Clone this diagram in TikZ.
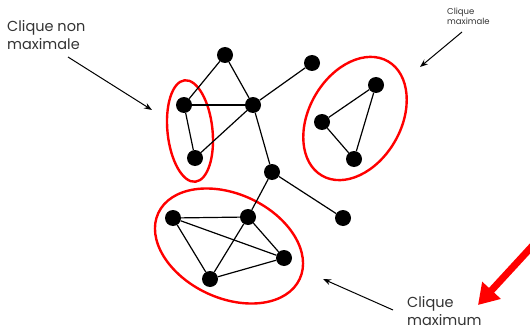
\documentclass[tikz,border=0pt]{standalone}
\usepackage{fontspec}
\setmainfont{Poppins}
\usetikzlibrary{arrows.meta}
\begin{document}
\begin{tikzpicture}[x=1pt,y=-1pt,
  vtx/.style={circle,fill=black,inner sep=0pt,minimum width=15pt,minimum height=16pt},
  edge/.style={line width=1.2pt},
  clq/.style={draw=red,line width=2.4pt},
  lbl/.style={text=black!80,align=left,inner sep=0pt,font=\fontsize{14.5}{18}\selectfont},
  ptr/.style={line width=1pt,-{Stealth[length=8pt,width=6pt]}}]
\useasboundingbox (0,0) rectangle (530,329);
% ellipses
\draw[clq] (190,131) ellipse [x radius=22.5, y radius=51, rotate=6];
\draw[clq] (355,118.5) ellipse [x radius=66, y radius=46, rotate=60];
\draw[clq] (229,246) ellipse [x radius=78, y radius=52, rotate=-25];
% vertices
\node[vtx] (A) at (225,55) {};
\node[vtx] (B) at (184,105) {};
\node[vtx] (C) at (253,105) {};
\node[vtx] (D) at (312,63) {};
\node[vtx] (E) at (195,158) {};
\node[vtx] (F) at (272,172) {};
\node[vtx] (G) at (343,218) {};
\node[vtx] (H) at (173,218) {};
\node[vtx] (I) at (248,217) {};
\node[vtx] (J) at (284,258) {};
\node[vtx] (K) at (210,279) {};
\node[vtx] (L) at (376,85) {};
\node[vtx] (M) at (322,122) {};
\node[vtx] (N) at (354,159) {};
\foreach \a/\b in {A/B,A/C,B/C,B/E,E/C,C/D,C/F,F/G,F/I,H/I,H/K,H/J,I/K,I/J,K/J,L/M,M/N,L/N}
  \draw[edge] (\a) -- (\b);
% labels
\node[lbl,anchor=north west] (t1) at (7,20) {Clique non\\maximale};
\node[lbl,anchor=north west] (t3) at (407,296) {Clique\\maximum};
\node[text=black!80,align=left,inner sep=0pt,font=\fontsize{8.5}{10}\selectfont,anchor=north west] (t2) at (447,8) {Clique\\maximale};
% pointers
\coordinate (s1) at (68,57); \coordinate (e1) at (152,110);
\draw[ptr] (s1) -- (e1);
\coordinate (s2) at (462,32); \coordinate (e2) at (420,67);
\draw[ptr] (s2) -- (e2);
\coordinate (s3) at (393,310); \coordinate (e3) at (323,279);
\draw[ptr] (s3) -- (e3);
% red arrow
\coordinate (rs) at (536,242); \coordinate (re) at (478,305);
\draw[red,line width=7pt,-{Triangle[length=20pt,width=24pt]}] (rs) -- (re);
\end{tikzpicture}
\end{document}
